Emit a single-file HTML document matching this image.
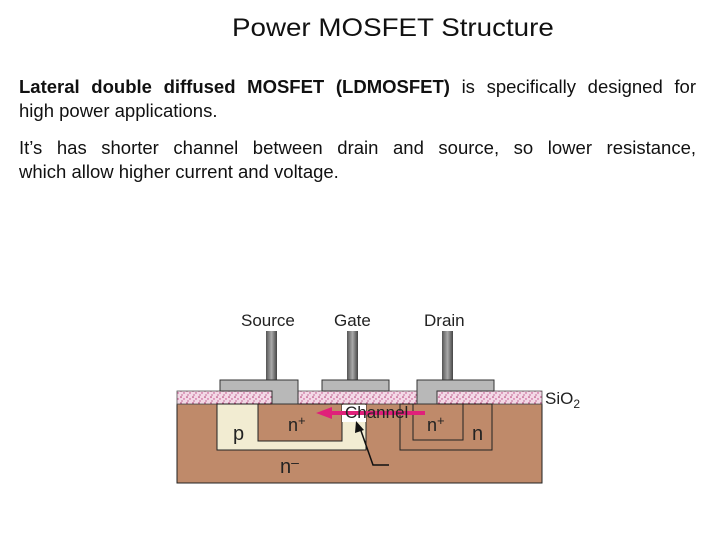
<!DOCTYPE html>
<html><head><style>
body{margin:0;width:720px;height:540px;background:#fff;position:relative;font-family:"Liberation Sans",sans-serif;overflow:hidden}
.t{position:absolute;left:232px;top:14px;font-size:25px;color:#111;white-space:nowrap;transform:scaleX(1.11);transform-origin:left top}
.l{position:absolute;left:19px;width:677px;font-size:18.5px;line-height:24px;color:#111;white-space:nowrap}
.j{text-align:justify;text-align-last:justify}
</style></head><body>
<div class="t">Power MOSFET Structure</div>
<div class="l j" style="top:75px"><b>Lateral double diffused MOSFET (LDMOSFET)</b> is specifically designed for</div>
<div class="l" style="top:99px">high power applications.</div>
<div class="l j" style="top:136px">It’s has shorter channel between drain and source, so lower resistance,</div>
<div class="l" style="top:160px">which allow higher current and voltage.</div>
<svg width="720" height="540" style="position:absolute;left:0;top:0" font-family="Liberation Sans, sans-serif">
<defs>
<pattern id="dots" width="6" height="6" patternUnits="userSpaceOnUse">
<rect width="6" height="6" fill="#f3d8e6"/>
<circle cx="1" cy="1" r="0.8" fill="#b0306a"/><circle cx="4" cy="3" r="0.7" fill="#c04080"/><circle cx="2" cy="5" r="0.6" fill="#a02860"/>
</pattern>
<linearGradient id="stem" x1="0" x2="1"><stop offset="0" stop-color="#555"/><stop offset="0.5" stop-color="#aaa"/><stop offset="1" stop-color="#444"/></linearGradient>
</defs>
<text x="241" y="326" font-size="17" fill="#222">Source</text>
<text x="334" y="326" font-size="17" fill="#222">Gate</text>
<text x="424" y="326" font-size="17" fill="#222">Drain</text>
<rect x="266" y="331" width="11" height="50" fill="url(#stem)"/>
<rect x="347" y="331" width="11" height="50" fill="url(#stem)"/>
<rect x="442" y="331" width="11" height="50" fill="url(#stem)"/>
<rect x="177" y="404" width="365" height="79" fill="#bf8a6a" stroke="#222" stroke-width="1"/>
<rect x="177" y="391" width="365" height="13" fill="url(#dots)" stroke="#555" stroke-width="0.8"/>
<rect x="217" y="404" width="149" height="46" fill="#f2ecd2" stroke="#222" stroke-width="1"/>
<rect x="258" y="404" width="84" height="37" fill="#bf8a6a" stroke="#222" stroke-width="1"/>
<rect x="342" y="405" width="24" height="17" fill="#fff"/>
<rect x="400" y="404" width="92" height="46" fill="#bf8a6a" stroke="#222" stroke-width="1"/>
<rect x="413" y="404" width="50" height="36" fill="#bf8a6a" stroke="#222" stroke-width="1"/>
<path d="M220 380H298V404H272V391H220Z" fill="#b8b8b8" stroke="#333" stroke-width="1"/>
<rect x="322" y="380" width="67" height="11" fill="#b8b8b8" stroke="#333" stroke-width="1"/>
<path d="M417 380H494V391H437V404H417Z" fill="#b8b8b8" stroke="#333" stroke-width="1"/>
<line x1="425" y1="413" x2="330" y2="413" stroke="#e0207a" stroke-width="4"/>
<polygon points="316,413 332,407 332,419" fill="#e0207a"/>
<text x="345" y="418" font-size="17" fill="#222">Channel</text>
<text x="288" y="431" font-size="18" fill="#222">n<tspan font-size="13" dy="-6">+</tspan></text>
<text x="427" y="431" font-size="18" fill="#222">n<tspan font-size="13" dy="-6">+</tspan></text>
<text x="233" y="440" font-size="20" fill="#222">p</text>
<text x="472" y="440" font-size="20" fill="#222">n</text>
<text x="280" y="473" font-size="20" fill="#222">n<tspan font-size="14" dy="-6">–</tspan></text>
<polyline points="389,465 373,465 360,428" fill="none" stroke="#111" stroke-width="1.5"/>
<polygon points="356,421 355,433 364,430" fill="#111"/>
<text x="545" y="404" font-size="17" fill="#222">SiO<tspan font-size="12" dy="4">2</tspan></text>
</svg>
</body></html>
